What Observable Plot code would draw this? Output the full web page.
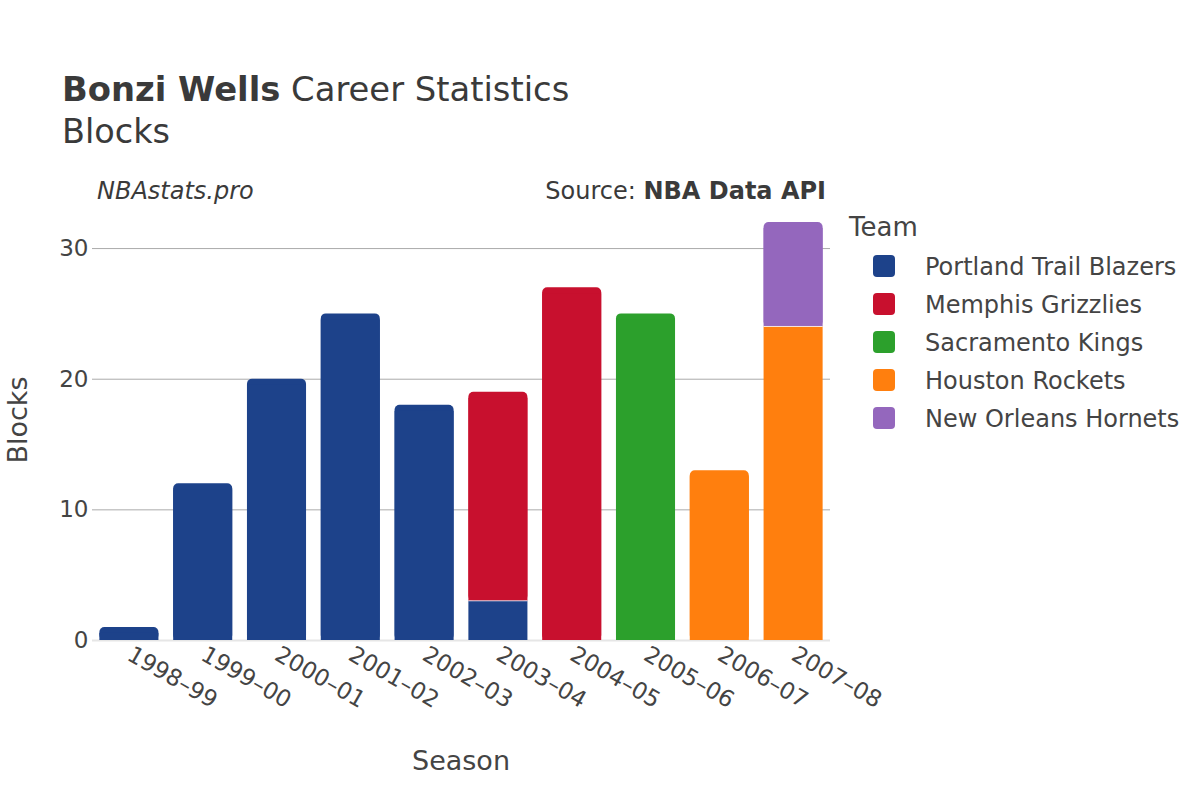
<!DOCTYPE html>
<html><head><meta charset="utf-8">
<script src="https://cdn.jsdelivr.net/npm/d3@7"></script>
<script src="https://cdn.jsdelivr.net/npm/@observablehq/plot@0.6"></script>
<style>
body{margin:0;background:#fff;}
#wrap{position:relative;width:1200px;height:800px;}
</style></head><body><div id="wrap"></div>
<script>
const seasons = ["1998–99","1999–00","2000–01","2001–02","2002–03","2003–04","2004–05","2005–06","2006–07","2007–08"];
const teams = ["Portland Trail Blazers","Memphis Grizzlies","Sacramento Kings","Houston Rockets","New Orleans Hornets"];
const teamColors = ["#1d428a","#c8102e","#2ca02c","#ff7f0e","#9467bd"];
const portland   = [1,12,20,25,18,3,0,0,0,0];
const memphis    = [0,0,0,0,0,16,27,0,0,0];
const sacramento = [0,0,0,0,0,0,0,25,0,0];
const houston    = [0,0,0,0,0,0,0,0,13,24];
const hornets    = [0,0,0,0,0,0,0,0,0,8];
const yTicks = [0,10,20,30];

const series = [portland, memphis, sacramento, houston, hornets];
const rows = [];
seasons.forEach((s, i) => {
  let base = 0;
  const segs = [];
  series.forEach((vals, t) => {
    const v = vals[i];
    if (v > 0) { segs.push({season: s, team: teams[t], y1: base, y2: base + v}); base += v; }
  });
  segs.forEach((d, k) => { d.top = k === segs.length - 1; rows.push(d); });
});
const topRows = rows.filter(d => d.top);
const lowRows = rows.filter(d => !d.top);

const font = "DejaVu Sans";
const color = {domain: teams, range: teamColors};
const chart = Plot.plot({
  width: 1200, height: 800,
  marginLeft: 92, marginRight: 370, marginTop: 200, marginBottom: 160,
  style: {fontFamily: font, fontSize: "23px", color: "#444", background: "#fff"},
  x: {domain: seasons, paddingInner: 0.2, paddingOuter: 0.1, round: false, label: null, tickSize: 0, tickRotate: 30, tickPadding: 12},
  y: {domain: [0, 33.68], ticks: yTicks, label: null, tickSize: 0, tickPadding: 4},
  color,
  marks: [
    Plot.ruleY(yTicks.filter(t => t > 0), {stroke: "#aaa", strokeWidth: 1}),
    Plot.ruleY([0], {stroke: "#e6e6e6", strokeWidth: 2}),
    Plot.rect(topRows, {x: "season", y1: "y1", y2: "y2", fill: "team", rx: 5}),
    Plot.barY(topRows, {x: "season", y1: "y1", y2: "y2", fill: "team", insetTop: 6}),
    Plot.barY(lowRows, {x: "season", y1: "y1", y2: "y2", fill: "team"})
  ]
});
document.getElementById("wrap").appendChild(chart);
const svg = d3.select(chart);
const xs = chart.scale("x"), ys = chart.scale("y");
// thin separators between stacked segments
lowRows.forEach(d => {
  svg.append("line")
    .attr("x1", xs.apply(d.season)).attr("x2", xs.apply(d.season) + xs.bandwidth)
    .attr("y1", ys.apply(d.y2)).attr("y2", ys.apply(d.y2))
    .attr("stroke", "#fff").attr("stroke-width", 1).attr("opacity", 0.8);
});

const txt = (x, y, s, size, opts = {}) => {
  const t = svg.append("text").attr("x", x).attr("y", y)
    .attr("font-family", font).attr("font-size", size)
    .attr("fill", opts.fill || "#444").attr("text-anchor", opts.anchor || "start");
  if (opts.style) t.attr("font-style", opts.style);
  if (opts.weight) t.attr("font-weight", opts.weight);
  if (opts.transform) t.attr("transform", opts.transform);
  t.text(s);
  return t;
};
const title = txt(62, 101, "", 33.8, {fill: "#3a3a3a"});
title.append("tspan").attr("font-weight", "bold").text("Bonzi Wells");
title.append("tspan").text(" Career Statistics");
txt(62, 143, "Blocks", 33.5, {fill: "#3a3a3a"});
txt(97, 199, "NBAstats.pro", 24, {style: "italic", fill: "#3a3a3a"});
const src = txt(826, 199, "", 24, {anchor: "end", fill: "#3a3a3a"});
src.append("tspan").text("Source: ");
src.append("tspan").attr("font-weight", "bold").text("NBA Data API");
txt(0, 0, "Blocks", 27, {anchor: "middle", transform: "translate(27,420) rotate(-90)"});
txt(461, 770, "Season", 27, {anchor: "middle"});

// legend
txt(849, 236, "Team", 26);
teams.forEach((t, i) => {
  const cy = 266 + i * 38;
  svg.append("rect").attr("x", 873).attr("y", cy - 11).attr("width", 22).attr("height", 22)
    .attr("rx", 4).attr("fill", teamColors[i]);
  txt(925, cy + 8.5, t, 24);
});
</script></body></html>
